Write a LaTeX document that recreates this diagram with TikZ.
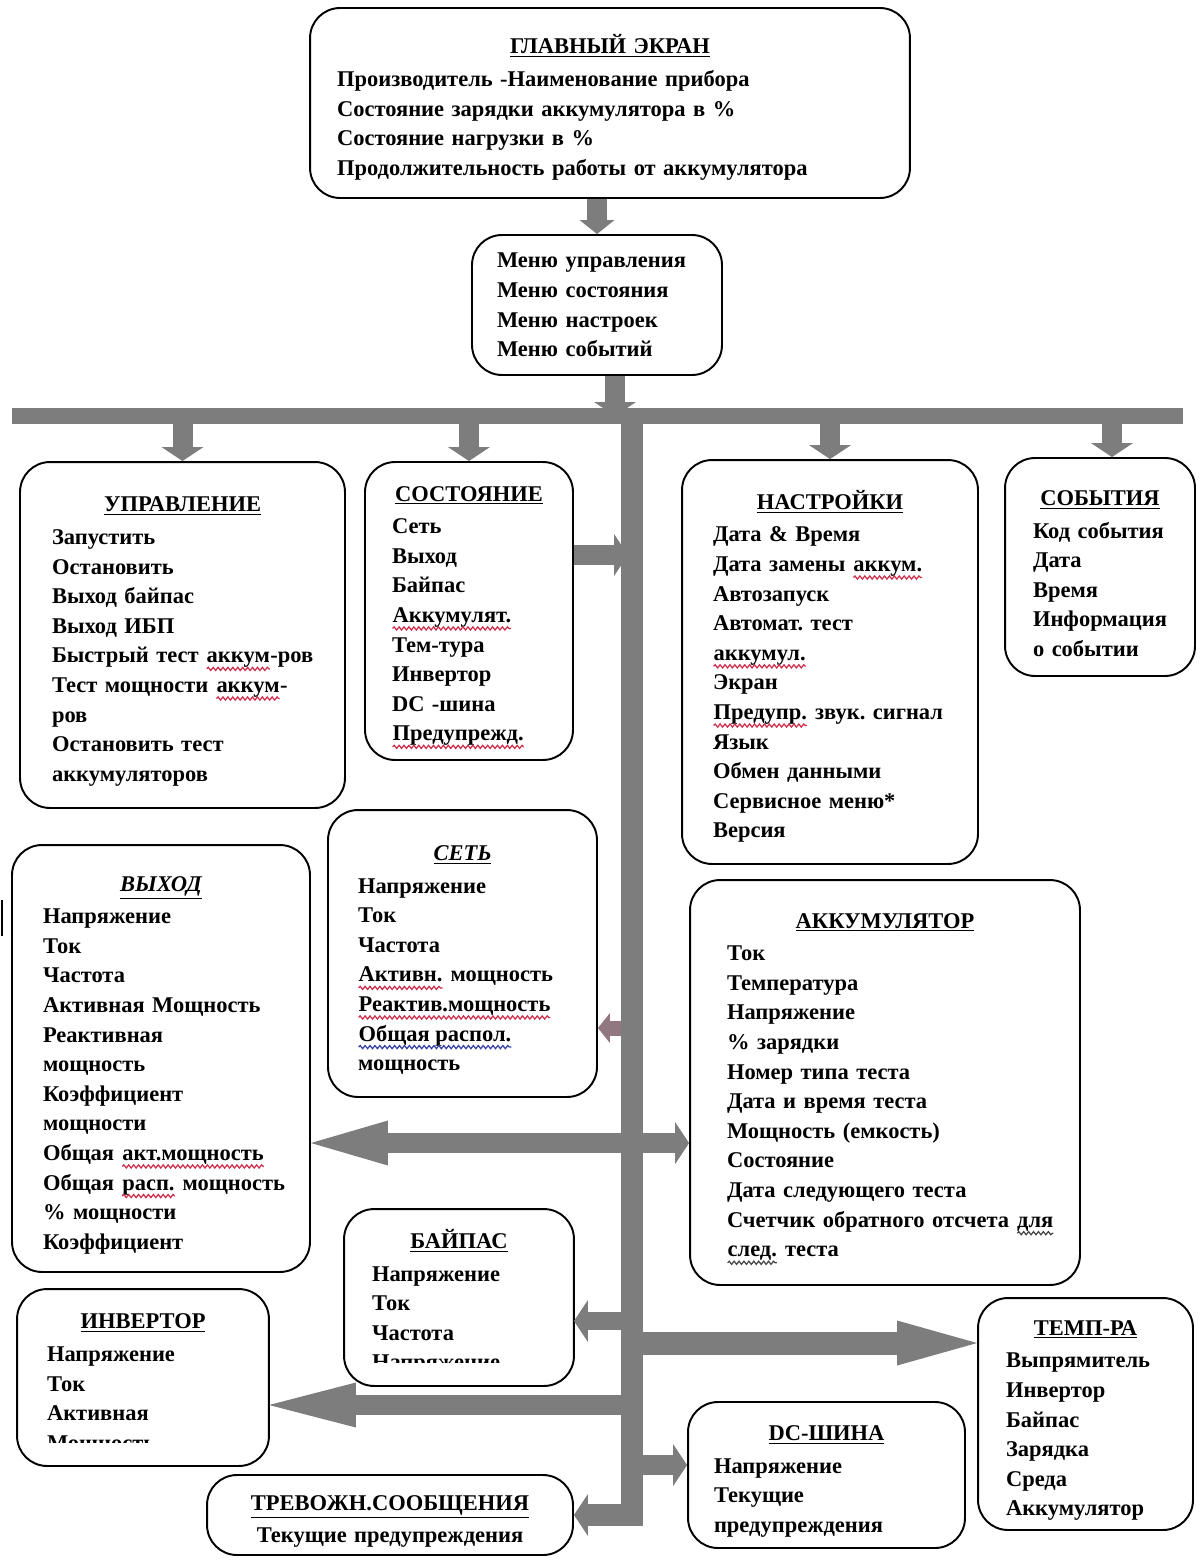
\documentclass[tikz,border=0pt]{standalone}
\usepackage{fontspec}
\setmainfont{Liberation Serif}
\usetikzlibrary{arrows.meta,decorations.pathmorphing}
\frenchspacing

\definecolor{busgray}{RGB}{125,125,125}
\definecolor{pinkgray}{RGB}{145,120,128}
\definecolor{spellred}{RGB}{205,45,75}
\definecolor{spellblue}{RGB}{55,65,165}
\definecolor{spelldark}{RGB}{70,70,70}

\newcommand{\paneltitle}[1]{\makebox[\linewidth]{\rule{0pt}{16pt}\underline{#1}}\\[0.06cm]}
\newcommand{\wavy}[2]{\tikz[baseline=(wv.base)]{%
  \node[inner sep=0pt, outer sep=0pt, minimum width=0pt, minimum height=0pt, text width={}, align=none] (wv) {#2};%
  \draw[#1, line width=0.7pt, sharp corners, decorate, decoration={snake,amplitude=0.9pt,segment length=2.8pt}]
    ([yshift=-3.4pt]wv.base west) -- ([yshift=-3.4pt]wv.base east);}}

\tikzset{
  panel/.style={draw, line width=1.1pt, rounded corners=0.6cm, inner sep=0pt, align=left,
    font=\bfseries\fontsize{12.8}{16.85}\selectfont\frenchspacing},
  pipe/.style={draw=busgray, line width=0.4cm},
  blunt/.style={-{Triangle[length=0.28cm,width=0.84cm,line width=0pt]}},
  lance/.style={-{Triangle[length=#1,width=0.9cm,line width=0pt]}},
  lance/.default=1.6cm
}

\begin{document}
\begin{tikzpicture}[x=0.02cm,y=-0.02cm]
\useasboundingbox (0,0) rectangle (1200,1561);

% top
\node[panel, minimum width=12cm, minimum height=3.8cm, text width=10.92cm] (main) at (610,103)
  {\paneltitle{ГЛАВНЫЙ ЭКРАН}Производитель -Наименование прибора\\
   Состояние зарядки аккумулятора в \%\\ Состояние нагрузки в \%\\
   Продолжительность работы от аккумулятора};
\node[panel, minimum width=5cm, minimum height=2.8cm, text width=4cm] (menu) at (597,305)
  {Меню~управления\\ Меню~состояния\\ Меню настроек\\ Меню событий};

% row under the bus
\node[panel, minimum width=6.5cm, minimum height=6.92cm, text width=5.22cm] (upr) at (182.5,635)
  {\paneltitle{УПРАВЛЕНИЕ}Запустить\\ Остановить\\ Выход байпас\\ Выход ИБП\\
   \mbox{Быстрый тест \wavy{spellred}{аккум}-ров}\\ \mbox{Тест мощности \wavy{spellred}{аккум}-}\\ ров\\
   Остановить тест\\ аккумуляторов};
\node[panel, minimum width=4.16cm, minimum height=5.96cm, text width=3.08cm] (sost) at (469,611)
  {\paneltitle{СОСТОЯНИЕ}Сеть\\ Выход\\ Байпас\\ \wavy{spellred}{Аккумулят.}\\ Тем-тура\\
   Инвертор\\ DC -шина\\ \wavy{spellred}{Предупрежд.}};
\node[panel, minimum width=5.92cm, minimum height=8.08cm, text width=4.68cm] (nast) at (830,662)
  {\paneltitle{НАСТРОЙКИ}Дата \& Время\\ \mbox{Дата замены \wavy{spellred}{аккум.}}\\ Автозапуск\\
   Автомат. тест\\ \wavy{spellred}{аккумул.}\\ Экран\\ \mbox{\wavy{spellred}{Предупр.} звук. сигнал}\\
   Язык\\ Обмен данными\\ Сервисное меню*\\ Версия};
\node[panel, minimum width=3.8cm, minimum height=4.36cm, text width=2.68cm] (sob) at (1100,567)
  {\paneltitle{СОБЫТИЯ}Код~события\\ Дата\\ Время\\ Информация\\ о~событии};

% status pages
\node[panel, minimum width=5.38cm, minimum height=5.74cm, text width=4.18cm] (set) at (462.5,953.5)
  {\paneltitle{\itshape СЕТЬ}Напряжение\\ Ток\\ Частота\\ \mbox{\wavy{spellred}{Активн.} мощность}\\
   \wavy{spellred}{Реактив.мощность}\\ \wavy{spellblue}{Общая распол.}\\ мощность};
\node[panel, minimum width=5.96cm, minimum height=8.54cm, text width=4.72cm] (vyh) at (161,1058.5)
  {\paneltitle{\itshape ВЫХОД}Напряжение\\ Ток\\ Частота\\ Активная~Мощность\\ Реактивная\\
   мощность\\ Коэффициент\\ мощности\\ \mbox{Общая \wavy{spellred}{акт.мощность}}\\
   \mbox{Общая \wavy{spellred}{расп.} мощность}\\ \%~мощности\\ Коэффициент};
\node[panel, minimum width=7.8cm, minimum height=8.1cm, text width=6.32cm] (akk) at (885,1082.5)
  {\paneltitle{АККУМУЛЯТОР}Ток\\ Температура\\ Напряжение\\ \%~зарядки\\ Номер типа теста\\
   Дата и время теста\\ Мощность (емкость)\\ Состояние\\ Дата следующего теста\\
   \mbox{Счетчик обратного отсчета \wavy{spelldark}{для}}\\ \mbox{\wavy{spelldark}{след.} теста}};
\begin{scope}
  \clip (300,1190) rectangle (600,1362);
  \node[panel, draw=none, minimum width=4.56cm, minimum height=3.5cm, text width=3.48cm] (bypass) at (459,1297.5)
    {\paneltitle{БАЙПАС}Напряжение\\ Ток\\ Частота\\ Напряжение};
\end{scope}
\draw[line width=1.1pt, rounded corners=0.6cm] (bypass.north west) rectangle (bypass.south east);
\begin{scope}
  \clip (0,1270) rectangle (300,1442);
  \node[panel, draw=none, minimum width=5cm, minimum height=3.5cm, text width=3.84cm] (inv) at (143,1377.5)
    {\paneltitle{ИНВЕРТОР}Напряжение\\ Ток\\ Активная\\ Мощность};
\end{scope}
\draw[line width=1.1pt, rounded corners=0.6cm] (inv.north west) rectangle (inv.south east);
\node[panel, minimum width=4.3cm, minimum height=4.64cm, text width=3.18cm] (temp) at (1085.5,1414)
  {\paneltitle{ТЕМП-РА}Выпрямитель\\ Инвертор\\ Байпас\\ Зарядка\\ Среда\\ Аккумулятор};
\node[panel, minimum width=5.54cm, minimum height=2.92cm, text width=4.5cm] (dc) at (826.5,1475)
  {\paneltitle{DC-ШИНА}Напряжение\\ Текущие\\ предупреждения};
\node[panel, align=center, minimum width=7.32cm, minimum height=1.6cm, text width=6.5cm] (trev) at (390,1515)
  {\paneltitle{ТРЕВОЖН.СООБЩЕНИЯ}Текущие предупреждения};

\draw[line width=0.06cm] (2,900) -- (2,936);

% bus
\coordinate (busL) at (12,416);
\coordinate (busR) at (1183,416);
\coordinate (busT) at (632,416);
\coordinate (jSost) at (628,555);
\coordinate (jSet) at (632,1028);
\coordinate (jOut) at (632,1143);
\coordinate (jByp) at (632,1321);
\coordinate (jTemp) at (632,1343);
\coordinate (jInv) at (632,1405);
\coordinate (jDC) at (632,1465);

\draw[pipe, -{Triangle[length=0.28cm,width=0.7cm,line width=0pt]}] (menu.north |- main.south) -- (menu.north);
\draw[pipe, blunt] ([xshift=0.36cm]menu.south) -- ([xshift=0.36cm]menu.south |- busL);
\draw[pipe, blunt] (upr.north |- busL) -- (upr.north);
\draw[pipe, blunt] (sost.north |- busL) -- (sost.north);
\draw[pipe, blunt] (nast.north |- busL) -- (nast.north);
\draw[pipe, blunt] ([xshift=0.24cm]sob.north |- busL) -- ([xshift=0.24cm]sob.north);

\draw[pipe, blunt] (sost.east |- jSost) -- (jSost);
\draw[pipe, draw=pinkgray, line width=0.3cm, -{Triangle[length=0.24cm,width=0.6cm,line width=0pt]}] (jSet) -- (set.east |- jSet);
\draw[pipe, lance=1.54cm] (jOut) -- (vyh.east |- jOut);
\draw[pipe, blunt] (jOut) -- (akk.west |- jOut);
\draw[pipe, line width=0.36cm, blunt] (jByp) -- (bypass.east |- jByp);
\draw[pipe, line width=0.46cm, lance=1.6cm] (jTemp) -- (temp.west |- jTemp);
\draw[pipe, lance=1.74cm] (jInv) -- (inv.east |- jInv);
\draw[pipe, blunt] (jDC) -- (dc.west |- jDC);

\draw[pipe, line width=0.44cm, blunt] (busT) |- (trev.east);
\draw[pipe, line width=0.32cm] (busL) -- (busR);
\end{tikzpicture}
\end{document}
